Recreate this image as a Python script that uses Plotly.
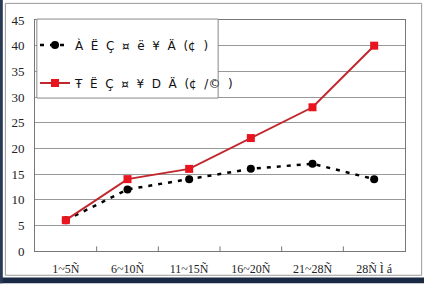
import plotly.graph_objects as go

categories = ["1~5Ñ", "6~10Ñ", "11~15Ñ", "16~20Ñ", "21~28Ñ", "28Ñ Ì á"]
series_a_name = "À  Ë  Ç  ¤  ë  ¥  Ä  (¢  )"
series_b_name = "Ŧ  Ë  Ç  ¤  ¥  D  Ä  (¢  /©  )"
series_a = [6, 12, 14, 16, 17, 14]
series_b = [6, 14, 16, 22, 28, 40]
y_ticks = [0, 5, 10, 15, 20, 25, 30, 35, 40, 45]

serif = "Liberation Serif, Times New Roman, serif"


def spaced(s):
    return s.replace(" ", "\u00a0")


fig = go.Figure()
fig.add_trace(go.Scatter(
    x=categories, y=series_a, name=spaced(series_a_name), mode="lines+markers",
    line=dict(color="black", width=2.5, dash="4px,6px"),
    marker=dict(symbol="circle", size=8, color="black"),
    legendgroup="a",
))
fig.add_trace(go.Scatter(
    x=categories, y=series_b, name=spaced(series_b_name), mode="lines+markers",
    line=dict(color="#c0282e", width=2),
    marker=dict(symbol="square", size=8, color="#e8141e"),
    legendgroup="b",
))

fig.update_layout(
    width=424, height=285,
    margin=dict(l=35, r=19, t=20, b=34),
    paper_bgcolor="white", plot_bgcolor="white",
    font=dict(family=serif, size=12, color="#222"),
    showlegend=True,
    legend=dict(
        x=0.0, y=0.955, xanchor="left", yanchor="top",
        bgcolor="rgba(0,0,0,0)", borderwidth=0,
        font=dict(family="DejaVu Sans, sans-serif", size=12, color="#111"),
        tracegroupgap=19, traceorder="grouped",
    ),
    xaxis=dict(
        type="category", range=[-0.5, 5.5], showgrid=False, automargin=False,
        showline=True, linecolor="#777", linewidth=1, mirror=True,
        ticks="", ticklabelstandoff=7, tickfont=dict(family=serif, size=12, color="#222"),
    ),
    yaxis=dict(
        range=[0, 45], tickvals=y_ticks, showgrid=True, gridcolor="#999", gridwidth=1,
        showline=True, linecolor="#777", linewidth=1, mirror=True, automargin=False,
        ticks="", zeroline=False, ticklabelstandoff=7,
        tickfont=dict(family=serif, size=13, color="#222"),
    ),
    shapes=[
        dict(type="rect", xref="paper", yref="paper", x0=0.005, x1=0.495, y0=0.662, y1=1.004,
             fillcolor="white", line=dict(color="#888", width=1), layer="above"),
        dict(type="rect", xref="paper", yref="paper", x0=-0.08, x1=1.045, y0=-0.105, y1=1.072,
             line=dict(color="#999", width=1)),
        dict(type="rect", xref="paper", yref="paper", x0=-0.1, x1=1.06, y0=-0.14, y1=-0.115,
             fillcolor="#1b2a44", line=dict(width=0)),
        dict(type="rect", xref="paper", yref="paper", x0=-0.1, x1=-0.087, y0=-0.14, y1=1.1,
             fillcolor="#2a3a55", line=dict(width=0)),
    ],
)

# inner category boundary ticks on the x axis
for i in range(1, len(categories)):
    fig.add_shape(type="line", xref="x", yref="paper", x0=i - 0.5, x1=i - 0.5, y0=0, y1=0.02,
                  line=dict(color="#777", width=1))

fig.write_html("out.html")
